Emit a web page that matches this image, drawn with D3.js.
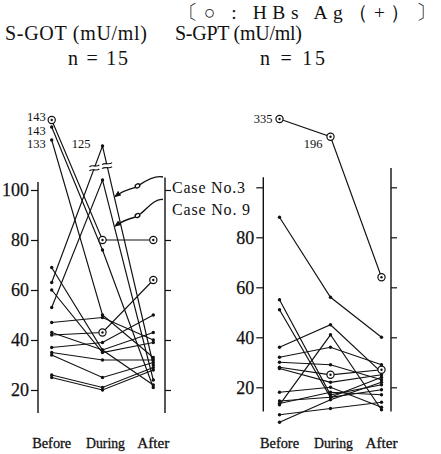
<!DOCTYPE html>
<html><head><meta charset="utf-8">
<script src="https://cdn.jsdelivr.net/npm/d3@7"></script>
<style>body{margin:0;background:#fff}svg{display:block}svg text{font-family:"Liberation Serif","Times New Roman",serif !important}</style>
</head><body>
<script>
// ---------- data ----------
const phases = ["Before", "During", "After"];

// S-GOT (mU/ml), n = 15
const gotBefore = [143, 143, 133, 63, 53, 69, 60, 47, 42, 37, 43, 35, 34, 26, 25];
const gotDuring = [80, 76, 50, 125, 104, 36, 35, 49, 43, 39, 36, 32, 25, 21, 20];
const gotAfter  = [80, 21, 33, 30, 24, 22, 39, 40, 64, 50, 43, 32, 31, 29, 28];
const gotHBsBefore = [1,0,0,0,0,0,0,0,0,0,0,0,0,0,0];
const gotHBsDuring = [1,0,0,0,0,0,0,0,1,0,0,0,0,0,0];
const gotHBsAfter  = [1,0,0,0,0,0,0,0,1,0,0,0,0,0,0];
const gotCaseNames = ["Case No.3", "Case No. 9"];
const gotCaseIndex = [3, 4];

// S-GPT (mU/ml), n = 15
const gptBefore = [335, 88, 55, 51, 36, 32, 30, 28, 27.5, 18, 14.5, 13.5, 13, 9, 6];
const gptDuring = [196, 56, 17, 16, 45, 36, 29, 25, 22, 20, 16, 18, 41, 11.5, 15];
const gptAfter  = [64, 40, 21, 19, 26, 29, 23, 27, 25, 12, 24, 17, 11, 14, 22];
const gptHBsBefore = [1,0,0,0,0,0,0,0,0,0,0,0,0,0,0];
const gptHBsDuring = [1,0,0,0,0,0,0,1,0,0,0,0,0,0,0];
const gptHBsAfter  = [1,0,0,0,0,0,0,1,0,0,0,0,0,0,0];

const yTicks = [20, 40, 60, 80, 100];

// ---------- layout ----------
const W = 441, H = 454;
const serif = '"Liberation Serif","Times New Roman",serif';
const svg = d3.select("body").append("svg").attr("width", W).attr("height", H)
  .attr("font-family", serif);

const panels = [
  { before: gotBefore, during: gotDuring, after: gotAfter,
    hb: [gotHBsBefore, gotHBsDuring, gotHBsAfter],
    xr: [51.7, 153.3], yr: [390, 190], axL: 38, axR: 165,
    axTopL: 103.2, axTopR: 105, axBottom: 10.8,
    brkDom: [125, 133, 143], brkRng: [146, 140, 120], brkMin: 110,
    labelHide: [], breakMarks: true },
  { before: gptBefore, during: gptDuring, after: gptAfter,
    hb: [gptHBsBefore, gptHBsDuring, gptHBsAfter],
    xr: [279.5, 381.5], yr: [387.3, 187.3], axL: 263.3, axR: 391,
    axTopL: 104, axTopR: 107.7, axBottom: 10.3,
    brkDom: [196, 335], brkRng: [136.7, 119], brkMin: 110,
    labelHide: [100], breakMarks: false }
];

panels.forEach((p, pi) => {
  const x = d3.scalePoint().domain(phases).range(p.xr);
  const y = d3.scaleLinear().domain([20, 100]).range(p.yr);
  const yb = d3.scaleLinear().domain(p.brkDom).range(p.brkRng);
  const g = svg.append("g");

  // axes
  const axL = d3.axisLeft(y).tickValues(yTicks).tickSize(7).tickPadding(2)
    .tickFormat(d => p.labelHide.includes(d) ? "" : d);
  const gl = g.append("g").attr("transform", `translate(${p.axL},0)`).call(axL)
    .attr("font-family", serif).attr("font-size", 18);
  gl.select(".domain").remove();
  gl.selectAll("line").attr("stroke", "#111").attr("stroke-width", 1.2);
  gl.selectAll("text").attr("fill", "#111").attr("stroke", "#111").attr("stroke-width", 0.25);
  g.append("line").attr("x1", p.axL).attr("x2", p.axL)
    .attr("y1", y(p.axTopL)).attr("y2", y(p.axBottom)).attr("stroke", "#111").attr("stroke-width", 1.4);

  const axR = d3.axisRight(y).tickValues(yTicks).tickSize(6).tickFormat("");
  const gr = g.append("g").attr("transform", `translate(${p.axR},0)`).call(axR);
  gr.select(".domain").remove();
  gr.selectAll("line").attr("stroke", "#111").attr("stroke-width", 1.2);
  g.append("line").attr("x1", p.axR).attr("x2", p.axR)
    .attr("y1", y(p.axTopR)).attr("y2", y(p.axBottom)).attr("stroke", "#111").attr("stroke-width", 1.4);

  // points with break-zone placement
  const cols = [p.before, p.during, p.after];
  const used = [[], [], []];
  const pts = p.before.map((_, i) => cols.map((col, c) => {
    const v = col[i];
    let yy, brk = v > p.brkMin;
    if (brk) {
      yy = yb(v);
      while (used[c].some(u => Math.abs(u - yy) < 4)) yy += 7;
      used[c].push(yy);
    } else yy = y(v);
    return { x: x(phases[c]), y: yy, v, brk, hb: p.hb[c][i] === 1, c, i };
  }));

  const line = d3.line().x(d => d.x).y(d => d.y);
  g.selectAll("path.series").data(pts).join("path").attr("class", "series")
    .attr("d", line).attr("fill", "none").attr("stroke", "#111").attr("stroke-width", 1.15);

  // break marks on segments touching a During value in break zone
  if (p.breakMarks) {
    pts.forEach(row => {
      if (!row[1].brk) return;
      [[row[0], row[1], 0.84], [row[1], row[2], 0.09]].forEach(([a, b, t]) => {
        const mx = a.x + (b.x - a.x) * t, my = a.y + (b.y - a.y) * t;
        const mg = g.append("g").attr("transform", `translate(${mx},${my})`);
        mg.append("rect").attr("x", -5).attr("y", -1.4).attr("width", 10).attr("height", 2.8).attr("fill", "#fff");
        [-2, 2].forEach(o => mg.append("path")
          .attr("d", `M-5,${o + 1} C-2,${o - 1.8} 2,${o + 1.8} 5,${o - 1}`)
          .attr("fill", "none").attr("stroke", "#111").attr("stroke-width", 1.1));
      });
    });
  }

  const all = pts.flat();
  g.selectAll("circle.dot").data(all.filter(d => !d.hb)).join("circle").attr("class", "dot")
    .attr("cx", d => d.x).attr("cy", d => d.y).attr("r", 1.7).attr("fill", "#111");
  const hbs = all.filter(d => d.hb);
  g.selectAll("circle.hb").data(hbs).join("circle").attr("class", "hb")
    .attr("cx", d => d.x).attr("cy", d => d.y).attr("r", 3.6)
    .attr("fill", "#fff").attr("stroke", "#111").attr("stroke-width", 1.2);
  g.selectAll("circle.hbc").data(hbs).join("circle").attr("class", "hbc")
    .attr("cx", d => d.x).attr("cy", d => d.y).attr("r", 1.2).attr("fill", "#111");

  // value labels for break-zone points
  const brkPts = all.filter(d => d.brk);
  [0, 1].forEach(c => {
    const colPts = brkPts.filter(d => d.c === c).sort((a, b) => a.y - b.y);
    colPts.forEach((d, k) => {
      let lx, ly;
      if (pi === 0 && c === 0) { lx = d.x - 6; ly = colPts[0].y - 3 + k * 13.5; }
      else if (pi === 0) { lx = d.x - 12; ly = d.y - 2; }
      else if (c === 0) { lx = d.x - 7; ly = d.y; }
      else { lx = d.x - 8; ly = d.y + 7; }
      g.append("text").attr("x", lx).attr("y", ly).attr("dy", "0.35em")
        .attr("text-anchor", "end").attr("font-size", 12.5).attr("fill", "#111").text(d.v);
    });
  });

  // phase labels
  g.selectAll("text.ph").data(phases).join("text").attr("class", "ph")
    .attr("x", d => x(d) + (d === "During" ? 3 : 0)).attr("y", 448)
    .attr("text-anchor", "middle").attr("font-size", 14.5).attr("fill", "#111")
    .attr("stroke", "#111").attr("stroke-width", 0.3)
    .attr("textLength", d => d === "After" ? 32 : 39).attr("lengthAdjust", "spacingAndGlyphs")
    .text(d => d);

  // case annotations (left panel)
  if (pi === 0) {
    const defs = svg.append("defs");
    defs.append("marker").attr("id", "ah").attr("viewBox", "0 0 10 10").attr("refX", 8).attr("refY", 5)
      .attr("markerWidth", 7).attr("markerHeight", 7).attr("markerUnits", "userSpaceOnUse").attr("orient", "auto")
      .append("path").attr("d", "M0,1 L10,5 L0,9 Z").attr("fill", "#111");
    gotCaseIndex.forEach((idx, k) => {
      const a = pts[idx][1], b = pts[idx][2];
      const t = 0.23;
      const tx = a.x + (b.x - a.x) * t, ty = a.y + (b.y - a.y) * t;
      const ly = k === 0 ? 187 : 209.5;
      g.append("text").attr("x", p.axR + 7).attr("y", ly).attr("dy", "0.35em")
        .attr("font-size", 16).attr("fill", "#111")
        .attr("textLength", k === 0 ? 73 : 78).attr("lengthAdjust", "spacing")
        .text(gotCaseNames[k]);
      const sx = p.axR - 2, sy = ly - 10;
      const cx = 137.5, cy = ty - 10.5;   // loop centre near the arrow
      g.append("path")
        .attr("d", `M${sx},${sy} C${sx - 8},${sy - 2} ${cx + 8},${cy - 5} ${cx + 2},${cy - 1}`)
        .attr("fill", "none").attr("stroke", "#111").attr("stroke-width", 1.3);
      g.append("ellipse").attr("cx", cx).attr("cy", cy).attr("rx", 2.4).attr("ry", 1.9)
        .attr("transform", `rotate(-30,${cx},${cy})`)
        .attr("fill", "none").attr("stroke", "#111").attr("stroke-width", 1.3);
      g.append("path")
        .attr("d", `M${cx - 2},${cy + 1.5} C${cx - 8},${cy + 3} ${tx + 8},${ty - 5} ${tx + 1},${ty}`)
        .attr("fill", "none").attr("stroke", "#111").attr("stroke-width", 1.3)
        .attr("marker-end", "url(#ah)");
    });
  }
});

// ---------- headings ----------
function head(txt, x, y, len, size) {
  svg.append("text").attr("x", x).attr("y", y).attr("font-size", size).attr("fill", "#111")
    .attr("textLength", len).attr("lengthAdjust", "spacing").text(txt);
}
head("〔○ : HBs Ag（+）〕", 178, 18.5, 258, 19.5);
head("S-GOT (mU/ml)", 5, 40, 142, 20);
head("S-GPT (mU/ml)", 175, 40, 127, 20);
head("n = 15", 68, 64.5, 60, 20);
head("n = 15", 260, 64.5, 65, 20);
</script>
</body></html>
